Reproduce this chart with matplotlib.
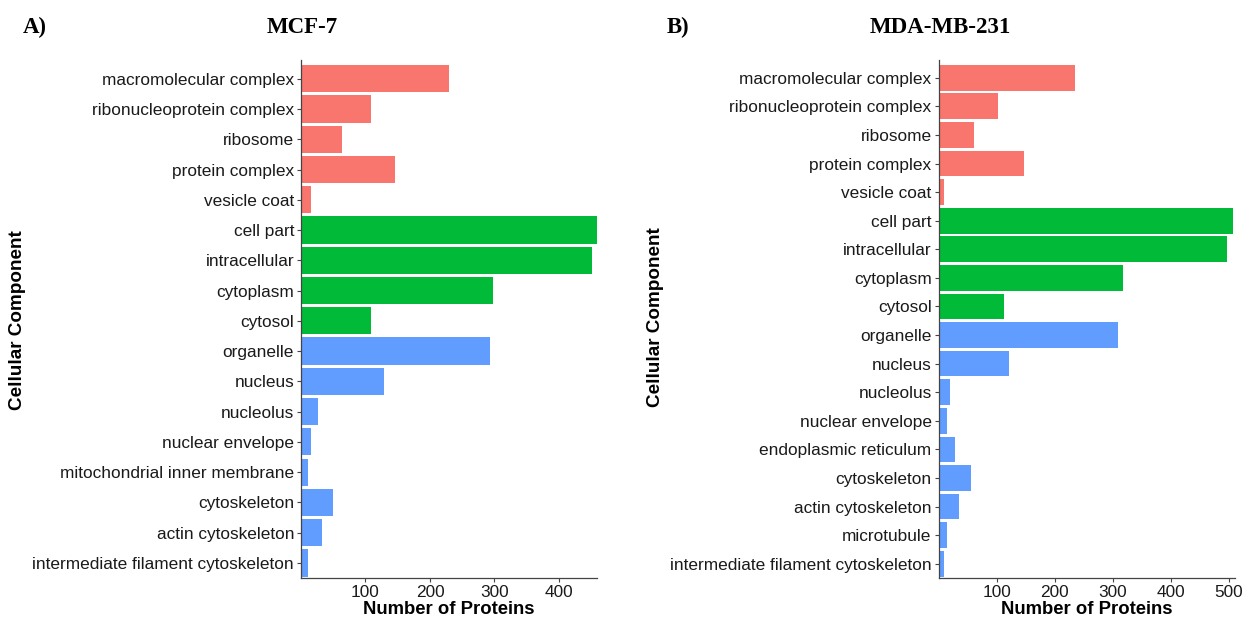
import matplotlib.pyplot as plt

plt.rcParams["font.family"] = ["Liberation Sans", "DejaVu Sans"]

# GO cellular component counts, grouped by colour class
mcf7_terms = ["macromolecular complex", "ribonucleoprotein complex", "ribosome",
              "protein complex", "vesicle coat", "cell part", "intracellular",
              "cytoplasm", "cytosol", "organelle", "nucleus", "nucleolus",
              "nuclear envelope", "mitochondrial inner membrane", "cytoskeleton",
              "actin cytoskeleton", "intermediate filament cytoskeleton"]
mcf7_counts = [230, 108, 63, 146, 15, 459, 451, 298, 108, 293, 128, 27, 15, 11, 49, 33, 11]
mcf7_group = ["a"] * 5 + ["b"] * 4 + ["c"] * 8

mda_terms = ["macromolecular complex", "ribonucleoprotein complex", "ribosome",
             "protein complex", "vesicle coat", "cell part", "intracellular",
             "cytoplasm", "cytosol", "organelle", "nucleus", "nucleolus",
             "nuclear envelope", "endoplasmic reticulum", "cytoskeleton",
             "actin cytoskeleton", "microtubule", "intermediate filament cytoskeleton"]
mda_counts = [236, 103, 61, 147, 10, 508, 498, 318, 113, 309, 121, 19, 15, 29, 56, 36, 15, 10]
mda_group = ["a"] * 5 + ["b"] * 4 + ["c"] * 9

colors = {"a": "#F8766D", "b": "#00BA38", "c": "#619CFF"}


def draw_panel(ax, terms, counts, groups, xmax, xticks):
    n = len(terms)
    ax.barh(range(n), counts, height=0.9,
            color=[colors[g] for g in groups], edgecolor="none")
    ax.set_ylim(n - 0.5, -0.62)
    ax.set_xlim(0, xmax)
    ax.set_yticks(range(n))
    ax.set_yticklabels(terms, fontsize=12.4, color="#1a1a1a")
    ax.set_xticks(xticks)
    ax.set_xticklabels([str(t) for t in xticks], fontsize=12.4, color="#1a1a1a")
    ax.tick_params(length=3, width=0.8, color="#444444", pad=2)
    for s in ["top", "right"]:
        ax.spines[s].set_visible(False)
    for s in ["left", "bottom"]:
        ax.spines[s].set_color("#444444")
        ax.spines[s].set_linewidth(0.9)
    ax.set_xlabel("Number of Proteins", fontsize=13.3, fontweight="bold", labelpad=1)


fig = plt.figure(figsize=(12.5, 6.22), dpi=100)
ax1 = fig.add_axes([0.2408, 0.0707, 0.2368, 0.8328])
ax2 = fig.add_axes([0.7508, 0.0707, 0.2372, 0.8328])

draw_panel(ax1, mcf7_terms, mcf7_counts, mcf7_group, 459, [100, 200, 300, 400])
draw_panel(ax2, mda_terms, mda_counts, mda_group, 511, [100, 200, 300, 400, 500])

fig.text(18 / 1250, 0.486, "Cellular Component", rotation=90, ha="center", va="center",
         fontsize=13.6, fontweight="bold")
fig.text(655 / 1250, 0.49, "Cellular Component", rotation=90, ha="center", va="center",
         fontsize=13.6, fontweight="bold")

serif = ["Liberation Serif", "DejaVu Serif"]
ty = 1 - 33 / 622
fig.text(23 / 1250, ty, "A)", family=serif, fontsize=16.5, fontweight="bold", va="baseline")
fig.text(302 / 1250, ty, "MCF-7", family=serif, fontsize=16.5, fontweight="bold",
         ha="center", va="baseline")
fig.text(667 / 1250, ty, "B)", family=serif, fontsize=16.5, fontweight="bold", va="baseline")
fig.text(940 / 1250, ty, "MDA-MB-231", family=serif, fontsize=16.5, fontweight="bold",
         ha="center", va="baseline")

fig.savefig("out.png", dpi=100)
